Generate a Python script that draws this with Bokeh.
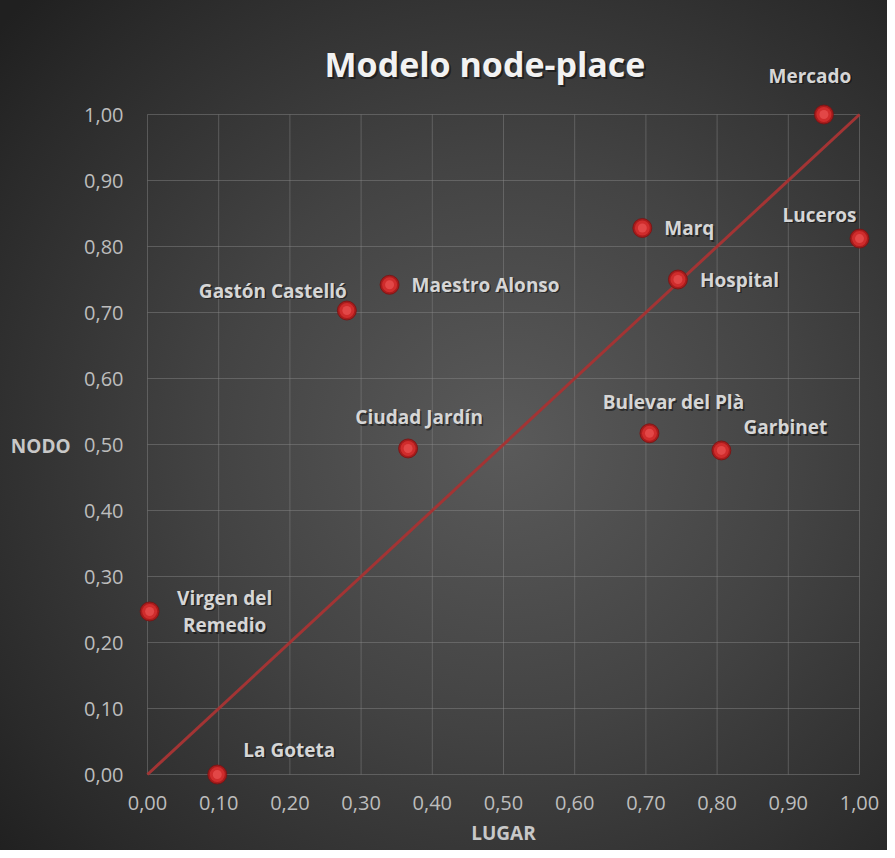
from bokeh.plotting import figure
from bokeh.models import Label, FixedTicker, CustomJSTickFormatter, Range1d
from bokeh.embed import file_html
from bokeh.resources import INLINE

# ---- data ----
stations = ["Mercado", "Luceros", "Marq", "Hospital", "Maestro Alonso",
            "Gastón Castelló", "Ciudad Jardín", "Bulevar del Plà", "Garbinet",
            "Virgen del\nRemedio", "La Goteta"]
lugar = [0.95, 1.00, 0.695, 0.745, 0.34, 0.28, 0.366, 0.705, 0.806, 0.003, 0.098]
nodo = [1.00, 0.812, 0.828, 0.75, 0.742, 0.703, 0.494, 0.517, 0.491, 0.247, 0.0]
diag_x = [0.0, 1.0]
diag_y = [0.0, 1.0]
ticks = [0.0, 0.1, 0.2, 0.3, 0.4, 0.5, 0.6, 0.7, 0.8, 0.9, 1.0]

# label placement (screen offsets, alignment)
label_style = {
    "Mercado": (-14, 39, "center"),
    "Luceros": (-40, 24, "center"),
    "Marq": (22, 0, "left"),
    "Hospital": (22, 0, "left"),
    "Maestro Alonso": (22, 0, "left"),
    "Gastón Castelló": (-74, 20, "center"),
    "Ciudad Jardín": (11, 31, "center"),
    "Bulevar del Plà": (24, 31, "center"),
    "Garbinet": (64, 23, "center"),
    "Virgen del\nRemedio": (75, 0, "center"),
    "La Goteta": (72, 25, "center"),
}

FONT = "Open Sans"
W, H = 887, 850
# plot-area placement inside the figure (pixels)
LEFT, RIGHT, TOP, BOTTOM = 147, 859, 114, 774
ux = RIGHT - LEFT
uy = BOTTOM - TOP

p = figure(width=W, height=H, output_backend="svg", toolbar_location=None,
           x_range=Range1d(-LEFT / ux, 1 + (W - RIGHT) / ux),
           y_range=Range1d(-(H - BOTTOM) / uy, 1 + TOP / uy),
           min_border=0, min_border_left=0, min_border_right=0,
           min_border_top=0, min_border_bottom=0)
p.styles = {"background": "radial-gradient(ellipse 75% 75% at 57% 52%, #5a5a5a 0%, #434343 45%, #2a2a2a 85%, #202020 100%)"}
p.background_fill_alpha = 0
p.border_fill_alpha = 0
p.outline_line_color = None
p.grid.visible = False

fmt = CustomJSTickFormatter(code="return tick.toFixed(2).replace('.', ',');")
for ax in (p.xaxis[0], p.yaxis[0]):
    ax.fixed_location = 0
    ax.bounds = (0, 1)
    ax.ticker = FixedTicker(ticks=ticks)
    ax.formatter = fmt
    ax.axis_line_color = None
    ax.major_tick_line_color = None
    ax.minor_tick_line_color = None
    ax.major_label_text_font = FONT
    ax.major_label_text_font_size = "20px"
    ax.major_label_text_color = "#bdbdbd"
p.xaxis.major_label_standoff = 15
p.yaxis.major_label_standoff = 18
p.xaxis.axis_label = "LUGAR"
p.xaxis.axis_label_text_font = FONT
p.xaxis.axis_label_text_font_style = "bold"
p.xaxis.axis_label_text_font_size = "19px"
p.xaxis.axis_label_text_color = "#c8c8c8"
p.xaxis.axis_label_standoff = 7

# grid lines on the tick values, limited to the 0..1 square
zeros = [0.0] * len(ticks)
ones = [1.0] * len(ticks)
p.segment(ticks, zeros, ticks, ones, line_color="#8a8a8a", line_alpha=0.45, line_width=1)
p.segment(zeros, ticks, ones, ticks, line_color="#8a8a8a", line_alpha=0.45, line_width=1)

p.line(diag_x, diag_y, line_color="#a33434", line_width=3)

p.scatter(lugar, nodo, size=19, fill_color="#a81c1c", line_color="#7a1212", line_width=0.8)
p.scatter(lugar, nodo, size=15, fill_color="#cf2c2c", line_color=None)
p.scatter(lugar, nodo, size=9, fill_color="#e85050", fill_alpha=0.75, line_color=None)

for name, x, y in zip(stations, lugar, nodo):
    dx, dy, align = label_style[name]
    for sh, col, alpha in ((1.5, "#000000", 0.45), (0, "#d6d6d6", 1.0)):
        p.add_layout(Label(x=x, y=y, x_offset=dx + sh, y_offset=dy - sh, text=name,
                           text_align=align, text_baseline="middle",
                           text_font=FONT, text_font_style="bold",
                           text_font_size="19px", text_color=col, text_alpha=alpha,
                           text_line_height=1.05))

# title and y-axis label
for sh, col, alpha in ((2, "#000000", 0.45), (0, "#f2f2f2", 1.0)):
    p.add_layout(Label(x=0.474, y=1.0758, text="Modelo node-place", text_align="center",
                       text_baseline="middle", text_font=FONT, text_font_style="bold",
                       text_font_size="34px", text_color=col, text_alpha=alpha,
                       x_offset=sh, y_offset=-sh))
p.add_layout(Label(x=-0.15, y=0.498, text="NODO", text_align="center",
                   text_baseline="middle", text_font=FONT, text_font_style="bold",
                   text_font_size="19px", text_color="#c8c8c8"))

open("out.html", "w").write(file_html(p, INLINE))
